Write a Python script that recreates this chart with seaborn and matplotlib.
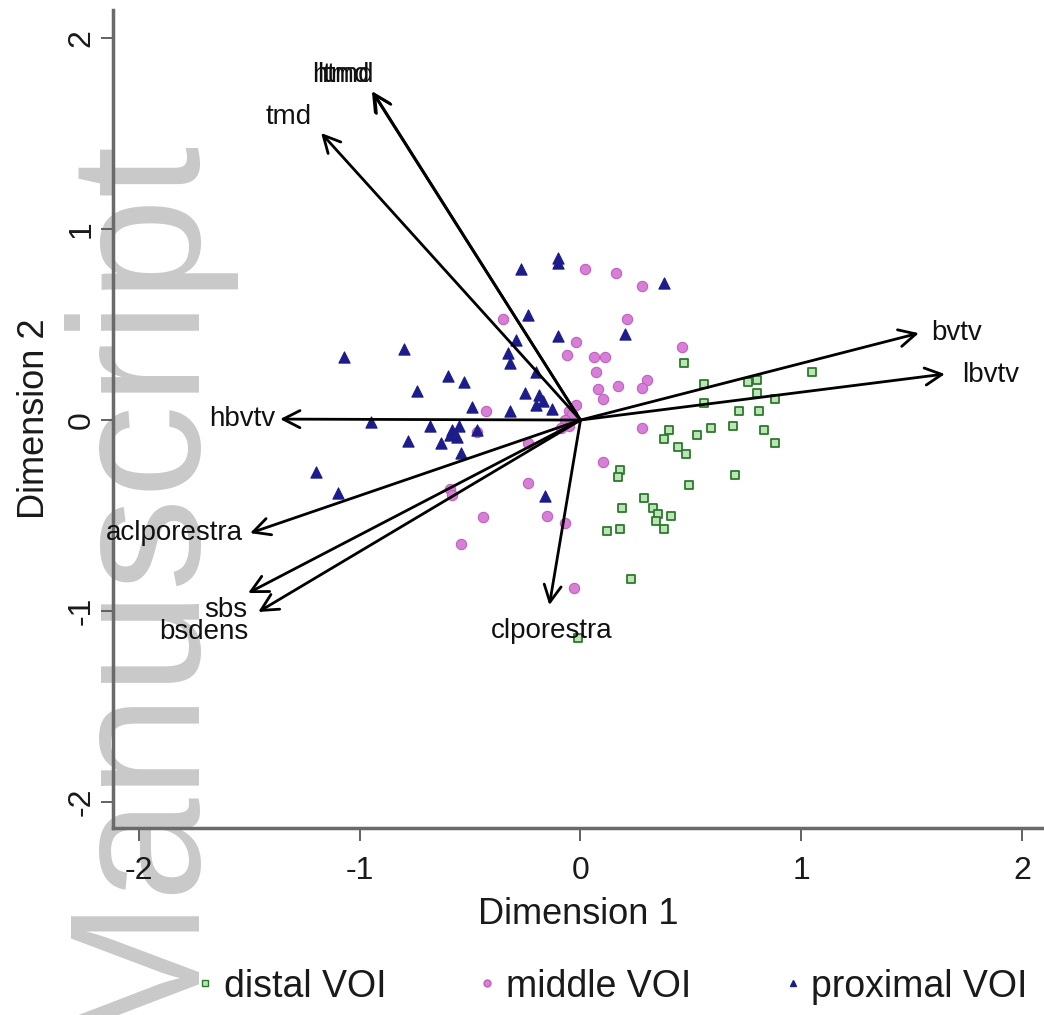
import numpy as np
import pandas as pd
import matplotlib
matplotlib.use("Agg")
import matplotlib.pyplot as plt
from matplotlib.lines import Line2D
import seaborn as sns

# ---------------- data ----------------
distal_x = [0.47, 1.05, 0.56, 0.76, 0.80, 0.80, 0.88, 0.56, 0.72, 0.81, 0.40, 0.38,
            0.53, 0.59, 0.69, 0.83, 0.88, 0.44, 0.48, 0.70, 0.49, 0.18, 0.17, 0.29,
            0.19, 0.33, 0.35, 0.41, 0.34, 0.38, 0.12, 0.18, 0.23, -0.01]
distal_y = [0.30, 0.25, 0.19, 0.20, 0.21, 0.14, 0.11, 0.09, 0.05, 0.05, -0.05, -0.10,
            -0.08, -0.04, -0.03, -0.05, -0.12, -0.14, -0.18, -0.29, -0.34, -0.26, -0.30, -0.41,
            -0.46, -0.46, -0.49, -0.50, -0.53, -0.57, -0.58, -0.57, -0.83, -1.14]

middle_x = [0.02, 0.16, 0.28, -0.35, 0.21, -0.02, -0.06, 0.11, 0.46, 0.07, 0.17, 0.30,
            0.08, 0.10, 0.28, 0.28, 0.10, -0.24, -0.44, -0.54, -0.15, -0.07, -0.03, -0.59,
            -0.24, -0.43, -0.47, -0.58, -0.05, -0.04, -0.07, -0.02, -0.05, -0.09, 0.06]
middle_y = [0.79, 0.77, 0.70, 0.53, 0.53, 0.41, 0.34, 0.33, 0.38, 0.25, 0.18, 0.21,
            0.16, 0.11, 0.17, -0.04, -0.22, -0.33, -0.51, -0.65, -0.50, -0.54, -0.88, -0.36,
            -0.12, 0.05, -0.06, -0.39, 0.05, 0.03, 0.00, 0.08, -0.03, -0.04, 0.33]

proximal_x = [-1.07, -0.80, -0.60, -0.53, -0.74, -0.27, -0.10, -0.10, 0.38, -0.24, 0.20, -0.10,
              -0.29, -0.33, -0.32, -0.20, -0.25, -0.19, -0.20, -0.32, -0.49, -0.95, -0.68, -0.78,
              -0.63, -0.58, -0.56, -0.54, -0.55, -1.20, -1.10, -0.16, -0.47, -0.59, -0.17, -0.13]
proximal_y = [0.33, 0.37, 0.23, 0.20, 0.15, 0.79, 0.82, 0.85, 0.72, 0.55, 0.45, 0.44,
              0.42, 0.35, 0.30, 0.25, 0.14, 0.13, 0.08, 0.05, 0.07, -0.01, -0.03, -0.11,
              -0.12, -0.05, -0.09, -0.17, -0.03, -0.27, -0.38, -0.40, -0.05, -0.08, 0.10, 0.06]

groups = ["distal VOI", "middle VOI", "proximal VOI"]

var_names = ["htmd", "ltmd", "tmd", "bvtv", "lbvtv", "hbvtv",
             "aclporestra", "sbs", "bsdens", "clporestra"]
load_x = [-0.94, -0.945, -1.175, 1.533, 1.651, -1.361, -1.497, -1.506, -1.460, -0.141]
load_y = [1.717, 1.722, 1.503, 0.455, 0.241, 0.005, -0.592, -0.906, -1.005, -0.969]
label_x = [-1.075, -1.075, -1.32, 1.705, 1.86, -1.533, -1.84, -1.605, -1.705, -0.13]
label_y = [1.806, 1.806, 1.586, 0.455, 0.236, 0.005, -0.592, -0.995, -1.11, -1.105]

xticks = [-2, -1, 0, 1, 2]
yticks = [-2, -1, 0, 1, 2]

# ---------------- styling ----------------
sns.set_theme(style="ticks")
plt.rcParams["font.family"] = ["Liberation Sans", "DejaVu Sans"]

fig = plt.figure(figsize=(10.44, 10.15), dpi=100)
fig.patch.set_facecolor("white")

# watermark (behind everything)
fig.text(185 / 1044, -0.025, "Manuscript", rotation=90, rotation_mode="anchor",
         ha="left", va="baseline", fontsize=134, color="#c9c9c9", zorder=-10)

ax = fig.add_axes([113 / 1044, 187 / 1015, 931 / 1044, 818 / 1015])
ax.set_facecolor("none")

df = pd.concat([
    pd.DataFrame({"x": distal_x, "y": distal_y, "group": groups[0]}),
    pd.DataFrame({"x": middle_x, "y": middle_y, "group": groups[1]}),
    pd.DataFrame({"x": proximal_x, "y": proximal_y, "group": groups[2]}),
], ignore_index=True)

styles = {
    groups[0]: dict(marker="s", s=40, color="#bfe3b8", edgecolor="#2b7a2b", linewidth=1.3),
    groups[1]: dict(marker="o", s=55, color="#d77fd7", edgecolor="#c060c0", linewidth=0.8),
    groups[2]: dict(marker="^", s=65, color="#1c1c8a", edgecolor="#1c1c8a", linewidth=0.8),
}
for g in groups:
    sub = df[df["group"] == g]
    sns.scatterplot(data=sub, x="x", y="y", ax=ax, legend=False, zorder=3, **styles[g])

# loading arrows
for name, lx, ly, tx, ty in zip(var_names, load_x, load_y, label_x, label_y):
    ax.annotate("", xy=(lx, ly), xytext=(0, 0),
                arrowprops=dict(arrowstyle="->,head_length=0.55,head_width=0.28",
                                lw=2.0, color="black", shrinkA=0, shrinkB=0,
                                mutation_scale=22),
                zorder=4)
    ax.text(tx, ty, name, ha="center", va="center", fontsize=20, color="#111111", zorder=5)

ax.set_xlim(-2.118, 2.10)
ax.set_ylim(-2.136, 2.147)
ax.set_xticks(xticks)
ax.set_yticks(yticks)
ax.set_xticklabels([str(v) for v in xticks])
ax.set_yticklabels([str(v) for v in yticks], rotation=90, va="center")

for side in ["top", "right"]:
    ax.spines[side].set_visible(False)
for side in ["left", "bottom"]:
    ax.spines[side].set_color("#6a6a6a")
    ax.spines[side].set_linewidth(2.5)

ax.tick_params(axis="both", colors="#555555", labelcolor="#1a1a1a", labelsize=23,
               length=9, width=1.3, direction="out")
ax.tick_params(axis="x", pad=11)
ax.tick_params(axis="y", pad=3)

ax.set_xlabel("Dimension 1", fontsize=26, color="#1a1a1a", labelpad=8)
ax.set_ylabel("Dimension 2", fontsize=26, color="#1a1a1a", labelpad=10)

# legend
handles = [
    Line2D([0], [0], linestyle="none", marker="s", markersize=5,
           markerfacecolor="#bfe3b8", markeredgecolor="#2b7a2b", markeredgewidth=1.0),
    Line2D([0], [0], linestyle="none", marker="o", markersize=5,
           markerfacecolor="#d77fd7", markeredgecolor="#c060c0"),
    Line2D([0], [0], linestyle="none", marker="^", markersize=5,
           markerfacecolor="#1c1c8a", markeredgecolor="#1c1c8a"),
]
fig.legend(handles, groups, loc="center", bbox_to_anchor=(0.585, 0.028), ncol=3,
           frameon=False, fontsize=27, handlelength=0.6, handletextpad=0.2,
           columnspacing=2.4, labelcolor="#1a1a1a")

fig.savefig("out.png", dpi=100, facecolor="white")
